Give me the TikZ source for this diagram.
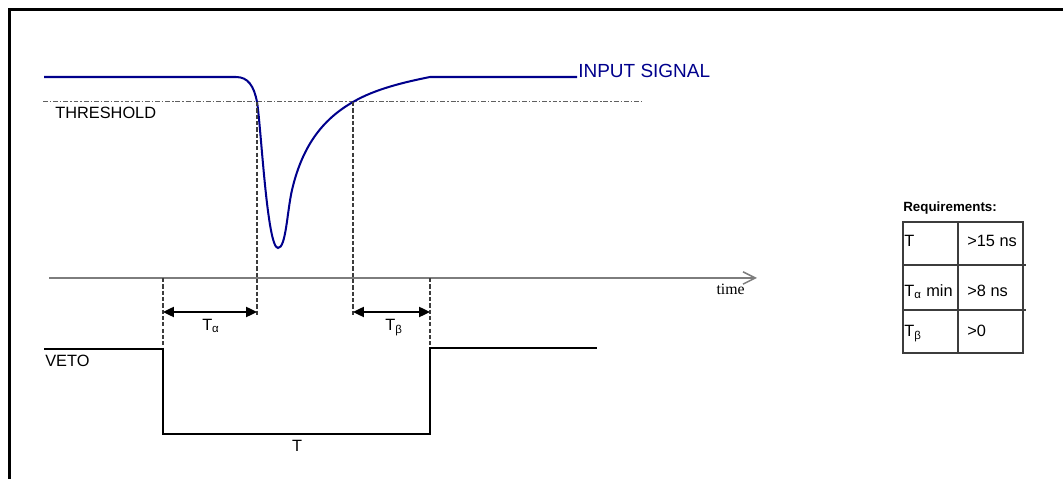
\documentclass[tikz,border=0pt]{standalone}
\usepackage{fontspec}
\setmainfont{Liberation Sans}
\newfontfamily\serifnote{Liberation Serif}
\usetikzlibrary{arrows.meta}

\definecolor{signalblue}{RGB}{0,0,140}
\definecolor{threshgray}{RGB}{95,95,95}
\definecolor{axisgray}{RGB}{125,125,125}
\definecolor{guidegray}{RGB}{60,60,60}

\tikzset{
  txt/.style={inner sep=0pt, font=\fontsize{9.3}{11}\selectfont},
  guide/.style={guidegray, line width=0.6pt, dash pattern=on 2.4pt off 1.2pt},
  span/.style={line width=0.8pt, {Triangle[length=6.2pt,width=5.8pt]}-{Triangle[length=6.2pt,width=5.8pt]}},
  wave/.style={line width=0.75pt, line join=miter},
}

\begin{document}
\begin{tikzpicture}[x=0.02cm,y=-0.02cm]
    \useasboundingbox (0,0) rectangle (1063,479);
    % frame, top and left edges
    \draw[line width=1.7pt] (1063,9.5) -- (9.5,9.5) -- (9.5,479);

    % instants where the signal crosses the threshold
    \coordinate (cross1) at (257,102);
    \coordinate (cross2) at (353,102);
    % edges of the veto pulse
    \coordinate (vetoA) at (163,349);
    \coordinate (vetoB) at (430,348);

    % threshold
    \draw[threshgray, line width=0.7pt, dash pattern=on 2.8pt off 1.1pt on 0.8pt off 1.1pt]
        (43,101.5) -- (643,101.5);
    \node[txt, anchor=base west] (thrlabel) at (55,119) {THRESHOLD};

    % input signal
    \draw[signalblue, line width=1.15pt]
        (44,77) -- (236,77) .. controls (248,77) and (254,86) .. (cross1)
        .. controls (261,125) and (267,248) .. (278,248)
        .. controls (286,248) and (287,212) .. (292,190)
        .. controls (303,143) and (325,118) .. (cross2)
        .. controls (375,89) and (405,82) .. (430,77) -- (577,77);
    \node[txt, signalblue, anchor=base west, font=\fontsize{10.8}{12}\selectfont]
        (siglabel) at (578,78) {INPUT SIGNAL};

    % time axis
    \draw[axisgray, line width=0.85pt, -{Straight Barb[length=7pt,width=7pt]}]
        (49,278) -- (757,278) coordinate (axisend);
    \node[inner sep=0pt, anchor=base east, font=\serifnote\fontsize{9}{11}\selectfont]
        (timelabel) at (745,295) {time};

    % guide lines
    \draw[guide] (cross1) -- (257,317);
    \draw[guide] (cross2) -- (353,317);
    \draw[guide] (163,278) -- (vetoA);
    \draw[guide] (430,278) -- (vetoB);

    % time intervals
    \draw[span] (163,312) -- (257,312);
    \node[txt, anchor=base] (talpha) at (211,331) {T\textsubscript{α}};
    \draw[span] (353,312) -- (430,312);
    \node[txt, anchor=base] (tbeta) at (394,331) {T\textsubscript{β}};

    % veto
    \draw[wave] (44,349) -- (vetoA) -- (163,434) -- (430,434) -- (vetoB) -- (597,348);
    \node[txt, anchor=base west] (vetolabel) at (45,367) {VETO};
    \node[txt, anchor=base] (tlabel) at (297,452) {T};

    % requirements table
    \node[inner sep=0pt, anchor=base west, font=\bfseries\fontsize{7.6}{9}\selectfont]
        (reqtitle) at (903,212) {Requirements:};
    \draw[guidegray, line width=0.6pt] (903,222) rectangle (1023,353);
    \draw[guidegray, line width=0.6pt] (958,222) -- (958,353);
    \draw[guidegray, line width=0.6pt] (903,265) -- (1026,265);
    \draw[guidegray, line width=0.6pt] (903,310) -- (1026,310);
    \node[txt, anchor=base west] (req1a) at (904,247) {T};
    \node[txt, anchor=base west] (req1b) at (967,247) {>15 ns};
    \node[txt, anchor=base west] (req2a) at (904,297) {T\textsubscript{α} min};
    \node[txt, anchor=base west] (req2b) at (967,297) {>8 ns};
    \node[txt, anchor=base west] (req3a) at (904,337) {T\textsubscript{β}};
    \node[txt, anchor=base west] (req3b) at (967,337) {>0};
\end{tikzpicture}
\end{document}
